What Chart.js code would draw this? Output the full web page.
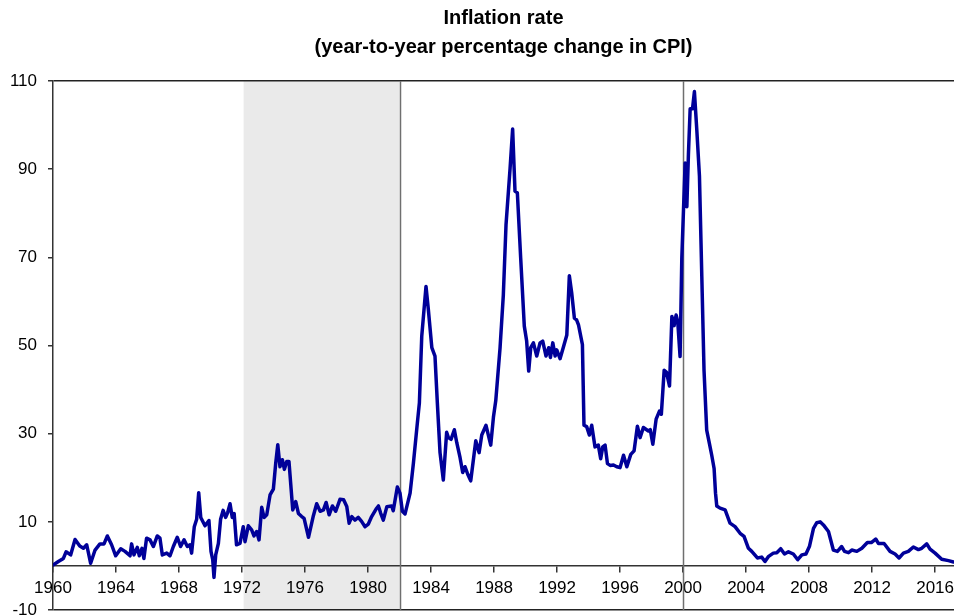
<!DOCTYPE html>
<html>
<head>
<meta charset="utf-8">
<script src="https://cdn.jsdelivr.net/npm/chart.js@4.4.0/dist/chart.umd.min.js"></script>
<style>
  body { margin: 0; background: #fff; }
</style>
</head>
<body>
<canvas id="cpi" width="954" height="615"></canvas>
<script>
// year-to-year CPI change (decimal years)
var dates = [
  1960.0, 1960.34, 1960.66, 1960.83, 1961.12, 1961.4, 1961.7, 1961.93, 1962.14, 1962.39,
  1962.67, 1962.98, 1963.24, 1963.45, 1963.72, 1963.98, 1964.3, 1964.57, 1964.89, 1964.99,
  1965.14, 1965.35, 1965.48, 1965.65, 1965.77, 1965.94, 1966.16, 1966.37, 1966.62, 1966.79,
  1966.94, 1967.22, 1967.43, 1967.64, 1967.89, 1968.1, 1968.32, 1968.53, 1968.7, 1968.8,
  1968.97, 1969.12, 1969.25, 1969.38, 1969.65, 1969.9, 1970.03, 1970.14, 1970.22, 1970.33,
  1970.5, 1970.64, 1970.8, 1970.96, 1971.09, 1971.24, 1971.38, 1971.5, 1971.65, 1971.87,
  1972.08, 1972.19, 1972.4, 1972.61, 1972.76, 1972.93, 1973.08, 1973.25, 1973.4, 1973.57,
  1973.78, 1973.99, 1974.14, 1974.27, 1974.41, 1974.56, 1974.69, 1974.84, 1974.98, 1975.22,
  1975.41, 1975.58, 1975.79, 1975.94, 1976.22, 1976.53, 1976.74, 1976.96, 1977.17, 1977.34,
  1977.53, 1977.74, 1977.95, 1978.22, 1978.45, 1978.65, 1978.8, 1978.97, 1979.17, 1979.38,
  1979.59, 1979.81, 1980.02, 1980.23, 1980.51, 1980.66, 1980.8, 1980.97, 1981.19, 1981.5,
  1981.6, 1981.86, 1982.03, 1982.18, 1982.35, 1982.67, 1982.88, 1983.13, 1983.26, 1983.41,
  1983.68, 1983.83, 1984.05, 1984.25, 1984.4, 1984.57, 1984.78, 1984.99, 1985.1, 1985.27,
  1985.48, 1985.63, 1985.84, 1986.01, 1986.16, 1986.33, 1986.52, 1986.84, 1987.05, 1987.22,
  1987.49, 1987.79, 1987.96, 1988.11, 1988.38, 1988.59, 1988.76, 1989.02, 1989.18, 1989.33,
  1989.48, 1989.69, 1989.92, 1990.07, 1990.2, 1990.33, 1990.5, 1990.71, 1990.92, 1991.09,
  1991.3, 1991.47, 1991.58, 1991.73, 1991.88, 1991.98, 1992.19, 1992.4, 1992.62, 1992.78,
  1992.93, 1993.1, 1993.24, 1993.36, 1993.61, 1993.71, 1993.88, 1994.05, 1994.2, 1994.41,
  1994.62, 1994.77, 1994.9, 1995.05, 1995.2, 1995.37, 1995.58, 1995.79, 1996.0, 1996.22,
  1996.43, 1996.68, 1996.89, 1997.1, 1997.27, 1997.48, 1997.8, 1997.92, 1998.08, 1998.29,
  1998.5, 1998.62, 1998.8, 1998.95, 1999.14, 1999.29, 1999.43, 1999.56, 1999.66, 1999.81,
  1999.92, 2000.13, 2000.24, 2000.34, 2000.45, 2000.6, 2000.72, 2000.87, 2001.04, 2001.19,
  2001.33, 2001.5, 2001.67, 2001.82, 2001.97, 2002.06, 2002.14, 2002.35, 2002.67, 2002.98,
  2003.3, 2003.62, 2003.87, 2004.15, 2004.36, 2004.72, 2004.99, 2005.2, 2005.41, 2005.73,
  2005.95, 2006.2, 2006.44, 2006.69, 2007.0, 2007.28, 2007.54, 2007.8, 2008.02, 2008.28,
  2008.49, 2008.7, 2008.91, 2009.23, 2009.54, 2009.8, 2010.07, 2010.25, 2010.5, 2010.71,
  2011.03, 2011.35, 2011.7, 2011.95, 2012.23, 2012.4, 2012.76, 2013.14, 2013.46, 2013.71,
  2013.99, 2014.3, 2014.62, 2014.94, 2015.15, 2015.47, 2015.68, 2016.0, 2016.42, 2016.85,
  2017.17
];
var inflation = [
  0.2, 1.0, 1.7, 3.2, 2.5, 6.0, 4.5, 4.0, 4.8, 0.6,
  3.6, 5.0, 5.0, 6.8, 4.8, 2.3, 3.9, 3.3, 2.3, 5.0,
  2.5, 4.2, 2.3, 4.0, 1.7, 6.3, 5.9, 4.4, 6.8, 6.3,
  2.5, 2.9, 2.3, 4.4, 6.5, 4.4, 5.9, 4.4, 4.8, 2.9,
  8.9, 10.6, 16.6, 11.0, 9.1, 10.3, 3.3, 1.4, -2.6, 2.5,
  5.1, 10.6, 12.6, 11.0, 12.1, 14.1, 11.0, 11.9, 4.8, 5.1,
  8.9, 5.5, 9.1, 8.2, 6.8, 7.8, 5.9, 13.3, 11.0, 11.6,
  16.1, 17.4, 23.3, 27.5, 22.5, 24.1, 21.9, 23.7, 23.7, 12.7,
  14.6, 11.9, 11.2, 10.8, 6.5, 11.4, 14.1, 12.4, 12.7, 14.4,
  11.6, 13.6, 12.4, 15.1, 15.0, 13.5, 9.7, 11.2, 10.4, 11.0,
  10.1, 8.9, 9.5, 11.2, 12.9, 13.6, 12.0, 10.4, 13.4, 13.6,
  12.5, 17.9, 16.5, 12.4, 11.8, 16.5, 23.3, 32.4, 37.0, 52.1,
  63.4, 58.1, 49.5, 47.6, 37.0, 25.7, 19.5, 30.3, 29.1, 28.7,
  30.9, 28.0, 24.6, 21.2, 22.5, 20.8, 19.3, 28.4, 25.7, 29.7,
  31.9, 27.4, 33.7, 37.5, 49.4, 61.5, 77.4, 90.3, 99.1, 85.0,
  84.6, 69.9, 54.4, 51.0, 44.2, 49.5, 50.6, 47.6, 50.6, 51.0,
  47.6, 49.5, 47.3, 50.6, 47.6, 49.0, 47.0, 49.6, 52.4, 65.8,
  61.9, 56.2, 55.8, 54.7, 50.2, 31.9, 31.6, 29.7, 31.9, 27.0,
  27.4, 24.3, 27.0, 27.4, 23.2, 22.8, 22.9, 22.5, 22.3, 25.1,
  22.5, 25.3, 26.1, 31.7, 29.1, 31.4, 30.6, 30.9, 27.6, 33.3,
  35.1, 34.4, 44.4, 43.9, 40.8, 56.6, 54.5, 56.9, 55.5, 47.5,
  69.8, 91.4, 81.5, 93.4, 103.7, 103.7, 107.6, 99.0, 88.4, 65.6,
  44.4, 30.8, 27.8, 25.1, 22.1, 16.5, 13.6, 13.1, 12.7, 9.7,
  8.9, 7.4, 6.7, 4.0, 3.3, 1.8, 2.0, 1.0, 2.1, 2.9,
  3.0, 3.9, 2.7, 3.2, 2.7, 1.4, 2.5, 2.7, 4.4, 8.5,
  9.8, 10.0, 9.3, 7.8, 3.6, 3.3, 4.4, 3.3, 3.0, 3.6,
  3.3, 4.0, 5.3, 5.3, 6.1, 5.1, 5.1, 3.3, 2.7, 1.8,
  2.9, 3.3, 4.3, 3.7, 4.0, 5.0, 3.8, 2.9, 1.5, 1.2,
  0.9
];
var xTickYears = [1960, 1964, 1968, 1972, 1976, 1980, 1984, 1988, 1992, 1996, 2000, 2004, 2008, 2012, 2016];
var yTickValues = [-10, 10, 30, 50, 70, 90, 110];
var shadedYears = [1972.1, 1982];
var markerYears = [1982, 2000];

var points = dates.map(function(d, i) { return { x: d, y: inflation[i] }; });

var decorations = {
  id: 'decorations',
  beforeDraw: function(chart) {
    var ctx = chart.ctx, area = chart.chartArea, xs = chart.scales.x;
    var x1 = xs.getPixelForValue(shadedYears[0]);
    var x2 = xs.getPixelForValue(shadedYears[1]);
    ctx.save();
    ctx.fillStyle = '#eaeaea';
    ctx.fillRect(x1, area.top, x2 - x1, area.bottom - area.top);
    ctx.restore();
  },
  beforeDatasetsDraw: function(chart) {
    var ctx = chart.ctx, area = chart.chartArea, xs = chart.scales.x;
    ctx.save();
    ctx.strokeStyle = '#6f6f6f';
    ctx.lineWidth = 1.5;
    markerYears.forEach(function(yr) {
      var px = Math.round(xs.getPixelForValue(yr)) + 0.5;
      ctx.beginPath();
      ctx.moveTo(px, area.top);
      ctx.lineTo(px, area.bottom);
      ctx.stroke();
    });
    ctx.restore();
  }
};

var ctx = document.getElementById('cpi').getContext('2d');
var cpiChart = new Chart(ctx, {
  type: 'line',
  data: {
    datasets: [
      {
        data: points,
        borderColor: '#000099',
        borderWidth: 3.5,
        borderJoinStyle: 'round',
        borderCapStyle: 'round',
        pointRadius: 0,
        tension: 0,
        fill: false
      }
    ]
  },
  options: {
    responsive: false,
    animation: false,
    devicePixelRatio: 1,
    layout: { padding: { left: 0, right: 0, top: 0, bottom: 5 } },
    plugins: {
      legend: { display: false },
      tooltip: { enabled: false },
      title: {
        display: true,
        fullSize: false,
        text: ['Inflation rate', '(year-to-year percentage change in CPI)'],
        color: '#000',
        font: { family: 'Liberation Sans', size: 20, weight: 'bold', lineHeight: 1.45 },
        padding: { top: 4, bottom: 19 }
      }
    },
    scales: {
      x: {
        type: 'linear',
        min: 1960,
        max: 2017.2,
        position: { y: 0 },
        afterBuildTicks: function(s) {
          s.ticks = xTickYears.map(function(v) { return { value: v }; });
        },
        afterFit: function(s) {
          s.height = 0;
          s.paddingLeft = 0;
          s.paddingRight = 0;
        },
        grid: { drawOnChartArea: false, drawTicks: true, tickLength: 6, tickColor: '#333', lineWidth: 1.5 },
        border: { display: true, color: '#333', width: 1.5 },
        ticks: {
          autoSkip: false,
          maxRotation: 0,
          padding: 6,
          color: '#000',
          font: { family: 'Liberation Sans', size: 17 },
          callback: function(v) { return String(v); }
        }
      },
      y: {
        min: -10,
        max: 110,
        afterBuildTicks: function(s) {
          s.ticks = yTickValues.map(function(v) { return { value: v }; });
        },
        afterFit: function(s) {
          s.width = 53;
          s.paddingTop = 0;
          s.paddingBottom = 0;
        },
        grid: {
          color: function(c) {
            return (c.tick && (c.tick.value === 110 || c.tick.value === -10)) ? '#222' : 'rgba(0,0,0,0)';
          },
          tickColor: '#333',
          tickLength: 5,
          lineWidth: 1.5
        },
        border: { color: '#333', width: 1.5 },
        ticks: {
          padding: 11,
          color: '#000',
          font: { family: 'Liberation Sans', size: 17 },
          callback: function(v) { return String(v); }
        }
      }
    }
  },
  plugins: [decorations]
});
</script>
</body>
</html>
